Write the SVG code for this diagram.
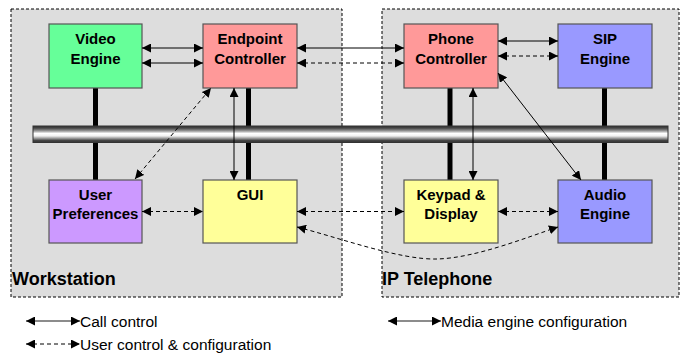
<svg xmlns="http://www.w3.org/2000/svg" width="680" height="354" viewBox="0 0 680 354">
<style>
.region{fill:#DDDDDD;stroke:#000;stroke-width:1;stroke-dasharray:3,2}
.box{stroke:#555;stroke-width:1.2}
.lbl{font-family:"Liberation Sans",Arial,sans-serif;font-weight:bold;font-size:15px;fill:#000;text-anchor:middle}
.title{font-family:"Liberation Sans",Arial,sans-serif;font-weight:bold;font-size:18px;fill:#000}
.leg{font-family:"Liberation Sans",Arial,sans-serif;font-size:15.5px;fill:#000}
.post{stroke:#000;stroke-width:5}
.solid{fill:none;stroke:#000;stroke-width:1;marker-start:url(#ah);marker-end:url(#ah)}
.dash{fill:none;stroke:#000;stroke-width:1;stroke-dasharray:4,3;marker-start:url(#ah);marker-end:url(#ah)}
</style>
<defs>
<marker id="ah" markerUnits="userSpaceOnUse" markerWidth="10" markerHeight="9" refX="9" refY="4.5" orient="auto-start-reverse">
<path d="M0,0 L9,4.5 L0,9 z" fill="#000"/>
</marker>
<linearGradient id="bus" x1="0" y1="0" x2="0" y2="1">
<stop offset="0" stop-color="#333"/>
<stop offset="0.12" stop-color="#444"/>
<stop offset="0.3" stop-color="#999"/>
<stop offset="0.45" stop-color="#fff"/>
<stop offset="0.6" stop-color="#f2f2f2"/>
<stop offset="0.75" stop-color="#999"/>
<stop offset="0.88" stop-color="#444"/>
<stop offset="1" stop-color="#333"/>
</linearGradient>
</defs>
<rect width="680" height="354" fill="#fff"/>
<g id="workstation">
<rect class="region" x="11" y="9" width="331" height="288"/>
<text class="title" x="12" y="285">Workstation</text>
</g>
<g id="ip-telephone">
<rect class="region" x="382" y="9" width="297" height="288"/>
<text class="title" x="382" y="285">IP Telephone</text>
</g>
<g id="posts">
<line class="post" x1="95.5" y1="88" x2="95.5" y2="180"/>
<line class="post" x1="248.5" y1="88" x2="248.5" y2="180"/>
<line class="post" x1="450" y1="88" x2="450" y2="180"/>
<line class="post" x1="604.5" y1="88" x2="604.5" y2="180"/>
</g>
<g id="bus">
<rect x="33" y="126" width="635" height="16.5" fill="url(#bus)" stroke="#333" stroke-width="1"/>
</g>
<g id="video-engine">
<rect class="box" x="49" y="24" width="93" height="64" fill="#66FF99"/>
<text class="lbl" x="95.5" y="44">Video</text>
<text class="lbl" x="95.5" y="64">Engine</text>
</g>
<g id="endpoint-controller">
<rect class="box" x="203" y="24" width="94" height="64" fill="#FF9999"/>
<text class="lbl" x="250" y="44">Endpoint</text>
<text class="lbl" x="250" y="64">Controller</text>
</g>
<g id="phone-controller">
<rect class="box" x="404" y="24" width="94" height="64" fill="#FF9999"/>
<text class="lbl" x="451" y="44">Phone</text>
<text class="lbl" x="451" y="64">Controller</text>
</g>
<g id="sip-engine">
<rect class="box" x="558" y="24" width="94" height="64" fill="#9999FF"/>
<text class="lbl" x="605" y="44">SIP</text>
<text class="lbl" x="605" y="64">Engine</text>
</g>
<g id="user-preferences">
<rect class="box" x="49" y="180" width="93" height="63" fill="#CC99FF"/>
<text class="lbl" x="95.5" y="200">User</text>
<text class="lbl" x="95.5" y="219">Preferences</text>
</g>
<g id="gui">
<rect class="box" x="203" y="180" width="94" height="63" fill="#FFFF99"/>
<text class="lbl" x="250" y="200">GUI</text>
</g>
<g id="keypad-display">
<rect class="box" x="404" y="180" width="94" height="63" fill="#FFFF99"/>
<text class="lbl" x="451" y="200">Keypad &amp;</text>
<text class="lbl" x="451" y="219">Display</text>
</g>
<g id="audio-engine">
<rect class="box" x="558" y="180" width="94" height="63" fill="#9999FF"/>
<text class="lbl" x="605" y="200">Audio</text>
<text class="lbl" x="605" y="219">Engine</text>
</g>
<g id="connectors">
<line class="solid" x1="142" y1="48" x2="203" y2="48"/>
<line class="solid" x1="142" y1="63" x2="203" y2="63"/>
<line class="solid" x1="297" y1="48" x2="404" y2="48"/>
<line class="dash" x1="297" y1="63" x2="404" y2="63"/>
<line class="solid" x1="498" y1="41" x2="558" y2="41"/>
<line class="dash" x1="498" y1="56" x2="558" y2="56"/>
<line class="solid" x1="234" y1="88" x2="234" y2="180"/>
<line class="solid" x1="473" y1="88" x2="473" y2="180"/>
<line class="solid" x1="498" y1="73" x2="581" y2="180"/>
<line class="dash" x1="135" y1="179" x2="211" y2="88"/>
<line class="dash" x1="142" y1="211.5" x2="203" y2="211.5"/>
<line class="dash" x1="297" y1="211.5" x2="404" y2="211.5"/>
<line class="dash" x1="498" y1="211.5" x2="558" y2="211.5"/>
<path class="dash" d="M297,227 C340,238 400,260 437,259 C475,258 525,238 558,227"/>
</g>
<g id="legend">
<line x1="26" y1="321" x2="80" y2="321" stroke="#666" stroke-width="1.5" marker-start="url(#ah)" marker-end="url(#ah)"/>
<text class="leg" x="80" y="327">Call control</text>
<line x1="26" y1="344" x2="80" y2="344" stroke="#000" stroke-width="1" stroke-dasharray="4,3" marker-start="url(#ah)" marker-end="url(#ah)"/>
<text class="leg" x="80" y="350">User control &amp; configuration</text>
<line x1="388" y1="321" x2="441" y2="321" stroke="#666" stroke-width="1.5" marker-start="url(#ah)" marker-end="url(#ah)"/>
<text class="leg" x="441" y="327">Media engine configuration</text>
</g>
</svg>
